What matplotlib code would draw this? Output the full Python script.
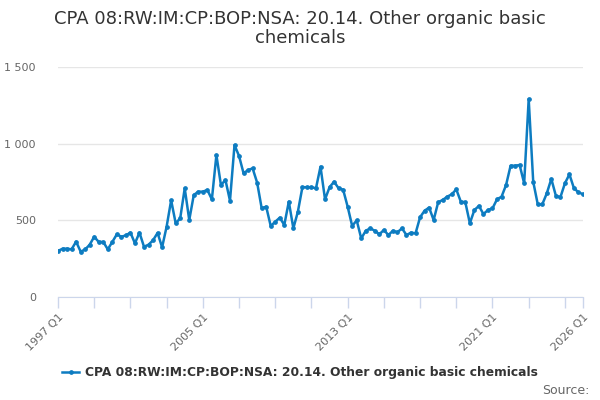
import matplotlib
matplotlib.use("Agg")
import matplotlib.pyplot as plt
from matplotlib.lines import Line2D

title = "CPA 08:RW:IM:CP:BOP:NSA: 20.14. Other organic basic\nchemicals"
series_name = "CPA 08:RW:IM:CP:BOP:NSA: 20.14. Other organic basic chemicals"

# quarterly, 1997 Q1 .. 2026 Q1
start_year = 1997
values = [
    300, 315, 315, 311, 361, 296, 310, 341, 393, 359, 359, 311,
    359, 409, 393, 402, 420, 350, 420, 328, 341, 370, 418, 324,
    459, 631, 481, 513, 709, 502, 665, 687, 687, 698, 637, 926,
    730, 763, 628, 991, 920, 807, 828, 839, 746, 579, 589, 463,
    491, 517, 470, 622, 448, 556, 716, 716, 716, 709, 850, 637,
    716, 752, 709, 700, 589, 463, 500, 382, 432, 448, 432, 409,
    437, 404, 432, 422, 448, 404, 420, 415, 520, 563, 583, 502,
    618, 633, 654, 670, 702, 622, 618, 481, 567, 594, 541, 567,
    578, 637, 654, 730, 856, 856, 861, 741, 1291, 752, 605, 604,
    676, 770, 661, 650, 741, 800, 709, 683, 670,
]
labels = [f"{start_year + i // 4} Q{i % 4 + 1}" for i in range(len(values))]
labelled = ["1997 Q1", "2005 Q1", "2013 Q1", "2021 Q1", "2026 Q1"]
y_ticks = [0, 500, 1000, 1500]
y_labels = ["0", "500", "1 000", "1 500"]

blue = "#0d7cc1"
grey = "#666666"

fig = plt.figure(figsize=(6, 4), dpi=100)
ax = fig.add_axes([58 / 600, 103 / 400, 525 / 600, 230 / 400])

x = list(range(len(values)))
ax.plot(x, values, color=blue, lw=1.8, marker="o", ms=2.4, zorder=3)

ax.set_xlim(0, len(values) - 1)
ax.set_ylim(0, 1500)
ax.set_yticks(y_ticks)
ax.set_yticklabels(y_labels)
ax.grid(axis="y", color="#e6e6e6", lw=1)
ax.set_axisbelow(True)

tick_pos = list(range(0, len(values), 8)) + [len(values) - 1]
ax.set_xticks(tick_pos)
ax.set_xticklabels([labels[i] if labels[i] in labelled else "" for i in tick_pos],
                   rotation=45, ha="right", rotation_mode="anchor")

for s in ["top", "right", "left"]:
    ax.spines[s].set_visible(False)
ax.spines["bottom"].set_color("#ccd6eb")
ax.tick_params(axis="x", colors="#ccd6eb", length=8, width=1, labelcolor=grey,
               labelsize=8, pad=3)
ax.tick_params(axis="y", length=0, labelcolor=grey, labelsize=8, pad=16)

fig.text(0.5, 0.975, title, ha="center", va="top", fontsize=13, color="#333333",
         linespacing=1.1)

handle = Line2D([0], [0], color=blue, lw=1.8, marker="o", ms=2.4)
fig.legend([handle], [series_name], loc="center", bbox_to_anchor=(0.5, 0.068),
           frameon=False, handlelength=1.4, handletextpad=0.5,
           prop={"weight": "bold", "size": 8.8}, labelcolor="#333333")

fig.text(0.983, 0.025, "Source:", ha="right", va="center", fontsize=9, color=grey)

fig.savefig("out.png", dpi=100)
